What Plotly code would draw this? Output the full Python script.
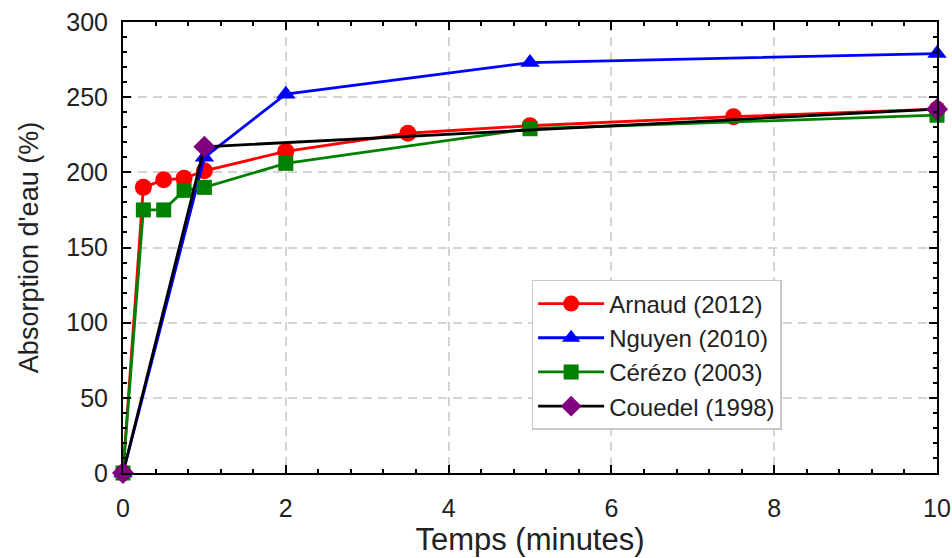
import plotly.graph_objects as go

# Data
arnaud_x = [0, 0.25, 0.5, 0.75, 1, 2, 3.5, 5, 7.5, 10]
arnaud_y = [0, 190, 195, 196, 201, 214, 226, 231, 237, 242]
nguyen_x = [0, 1, 2, 5, 10]
nguyen_y = [0, 210, 252, 273, 279]
cerezo_x = [0, 0.25, 0.5, 0.75, 1, 2, 5, 10]
cerezo_y = [0, 175, 175, 188, 190, 206, 229, 238]
couedel_x = [0, 1, 10]
couedel_y = [0, 217, 242]

series = [
    ("Arnaud (2012)", arnaud_x, arnaud_y, "red", "red", "circle", 17),
    ("Nguyen (2010)", nguyen_x, nguyen_y, "blue", "blue", "triangle-up", 17),
    ("Cérézo (2003)", cerezo_x, cerezo_y, "green", "green", "square", 15),
    ("Couedel (1998)", couedel_x, couedel_y, "black", "purple", "diamond", 17),
]

fig = go.Figure()
for name, xs, ys, lc, mc, sym, sz in series:
    fig.add_trace(go.Scatter(
        x=xs, y=ys, name=name, mode="lines+markers",
        line=dict(color=lc, width=2.8),
        marker=dict(color=mc, symbol=sym, size=sz, line=dict(width=0)),
        cliponaxis=False,
    ))

font_family = "Liberation Sans, Arial, sans-serif"
fig.update_layout(
    width=952, height=558,
    margin=dict(l=123, r=15, t=22, b=85),
    plot_bgcolor="white", paper_bgcolor="white",
    font=dict(family=font_family, size=24, color="#222"),
    legend=dict(
        x=0.502, y=0.428, xanchor="left", yanchor="top",
        bgcolor="white", bordercolor="#c8c8c8", borderwidth=1.5,
        font=dict(size=24, color="#222"),
        tracegroupgap=0, itemwidth=66,
    ),
    showlegend=True,
)
grid_style = dict(showgrid=True, gridcolor="#d4d4d4", griddash="9px,6px", gridwidth=2)
fig.update_xaxes(
    range=[0, 10], dtick=2, tick0=0,
    showline=True, linecolor="black", linewidth=2, mirror="allticks",
    ticks="inside", ticklen=8, tickwidth=2, tickcolor="black",
    minor=dict(dtick=0.4, ticks="inside", ticklen=4, tickwidth=1.5, tickcolor="black", showgrid=False),
    zeroline=False,
    ticklabelstandoff=12,
    title=dict(text="Temps (minutes)", font=dict(size=31), standoff=3),
    tickfont=dict(size=25),
    automargin=False,
    **grid_style,
)
fig.update_yaxes(
    range=[0, 300], dtick=50, tick0=0,
    showline=True, linecolor="black", linewidth=2, mirror="allticks",
    ticks="inside", ticklen=8, tickwidth=2, tickcolor="black",
    minor=dict(dtick=10, ticks="inside", ticklen=4, tickwidth=1.5, tickcolor="black", showgrid=False),
    zeroline=False,
    ticklabelstandoff=8,
    title=dict(text="Absorption d'eau (%)", font=dict(size=27), standoff=20),
    tickfont=dict(size=25),
    automargin=False,
    **grid_style,
)

fig.write_html("out.html", config={"displayModeBar": False},
               post_script="document.body.style.margin='0';")
